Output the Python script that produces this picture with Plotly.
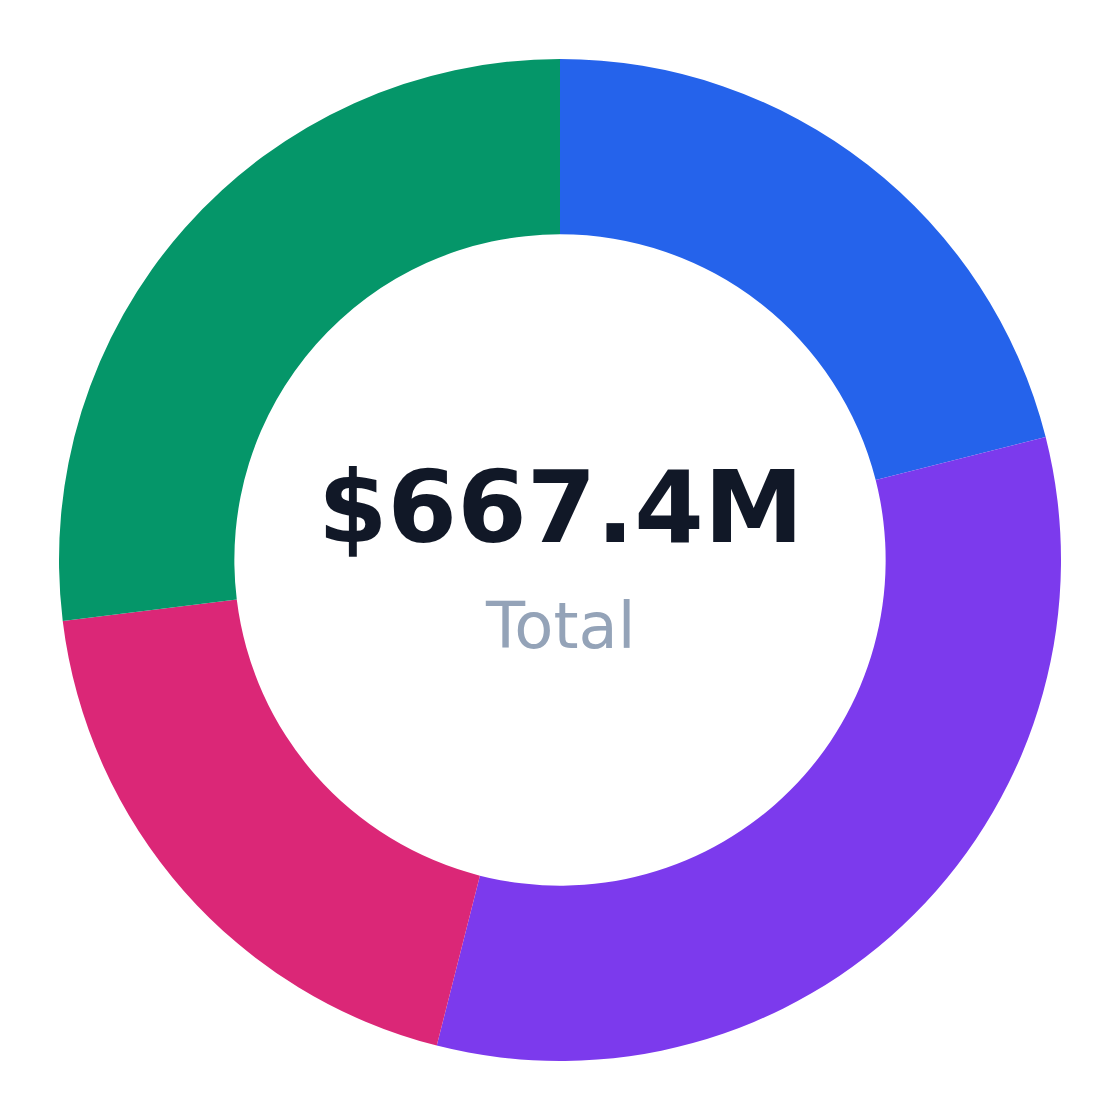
import plotly.graph_objects as go

labels = ["Segment A", "Segment B", "Segment C", "Segment D"]
values = [140.5, 219.6, 127.5, 179.8]
colors = ["#2563eb", "#7c3aed", "#db2777", "#059669"]
total_label = "$667.4M"
sub_label = "Total"

fig = go.Figure(go.Pie(
    labels=labels,
    values=values,
    hole=0.65,
    sort=False,
    direction="clockwise",
    rotation=0,
    marker=dict(colors=colors, line=dict(width=0)),
    textinfo="none",
    hoverinfo="label+value+percent",
    showlegend=False,
))

fig.add_annotation(x=0.5, y=0.552, xref="paper", yref="paper", text="<b>" + total_label + "</b>",
                   showarrow=False, font=dict(family="DejaVu Sans", size=100, color="#111827"),
                   xanchor="center", yanchor="middle")
fig.add_annotation(x=0.5, y=0.434, xref="paper", yref="paper", text=sub_label,
                   showarrow=False, font=dict(family="DejaVu Sans", size=64, color="#94a3b8"),
                   xanchor="center", yanchor="middle")

fig.update_layout(
    width=1120, height=1120,
    margin=dict(l=51, r=67, t=51, b=67),
    paper_bgcolor="white", plot_bgcolor="white",
)
fig.write_html("out.html")
